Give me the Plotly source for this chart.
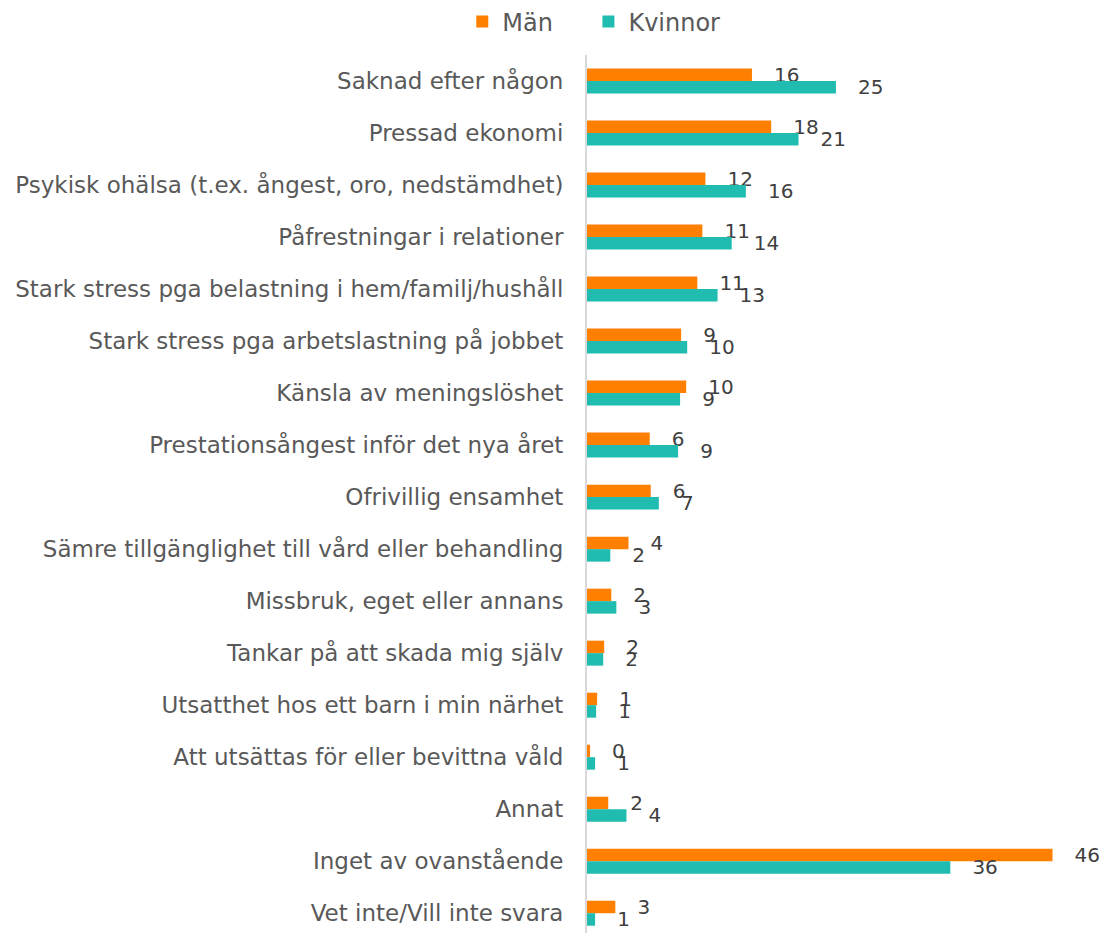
import plotly.graph_objects as go

categories = [
    "Saknad efter någon",
    "Pressad ekonomi",
    "Psykisk ohälsa (t.ex. ångest, oro, nedstämdhet)",
    "Påfrestningar i relationer",
    "Stark stress pga belastning i hem/familj/hushåll",
    "Stark stress pga arbetslastning på jobbet",
    "Känsla av meningslöshet",
    "Prestationsångest inför det nya året",
    "Ofrivillig ensamhet",
    "Sämre tillgänglighet till vård eller behandling",
    "Missbruk, eget eller annans",
    "Tankar på att skada mig själv",
    "Utsatthet hos ett barn i min närhet",
    "Att utsättas för eller bevittna våld",
    "Annat",
    "Inget av ovanstående",
    "Vet inte/Vill inte svara",
]
man = [16.3, 18.2, 11.7, 11.4, 10.9, 9.3, 9.8, 6.2, 6.3, 4.1, 2.4, 1.7, 1.0, 0.3, 2.1, 46.0, 2.8]
kvinnor = [24.6, 20.9, 15.7, 14.3, 12.9, 9.9, 9.2, 9.0, 7.1, 2.3, 2.9, 1.6, 0.9, 0.8, 3.9, 35.9, 0.8]

FONT = "DejaVu Sans"
pad = "\u00a0\u00a0\u00a0"

fig = go.Figure()
fig.add_trace(go.Bar(
    name="Män\u00a0\u00a0\u00a0\u00a0", y=categories, x=man, orientation="h",
    marker=dict(color="#FF7F00", line=dict(width=0)),
    texttemplate=pad + "%{x:.0f}", textposition="outside",
    constraintext="none", cliponaxis=False,
    textfont=dict(family=FONT, size=20, color="#404040"),
))
fig.add_trace(go.Bar(
    name="Kvinnor", y=categories, x=kvinnor, orientation="h",
    marker=dict(color="#21BCB0", line=dict(width=0)),
    texttemplate=pad + "%{x:.0f}", textposition="outside",
    constraintext="none", cliponaxis=False,
    textfont=dict(family=FONT, size=20, color="#404040"),
))

fig.update_layout(
    width=1099, height=925,
    barmode="group", bargap=0.52, bargroupgap=0,
    paper_bgcolor="white", plot_bgcolor="white",
    margin=dict(l=579, r=14, t=47, b=0, autoexpand=False),
    font=dict(family=FONT, color="#595959"),
    legend=dict(
        orientation="h", xref="container", yref="container",
        x=0.533, xanchor="center", y=0.985, yanchor="middle",
        font=dict(family=FONT, size=24, color="#595959"),
        traceorder="normal", itemwidth=30,
    ),
    showlegend=True,
)
fig.update_xaxes(range=[0, 50], showgrid=False, showticklabels=False,
                 zeroline=False, showline=False, ticks="", automargin=False)
fig.update_yaxes(categoryorder="array", categoryarray=categories,
                 range=[16.38, -0.5], showgrid=False, zeroline=False,
                 showline=True, linecolor="#D9D9D9", linewidth=2, ticks="",
                 ticklabelstandoff=17, automargin=False,
                 tickfont=dict(family=FONT, size=23, color="#595959"))

fig.write_html("out.html")
